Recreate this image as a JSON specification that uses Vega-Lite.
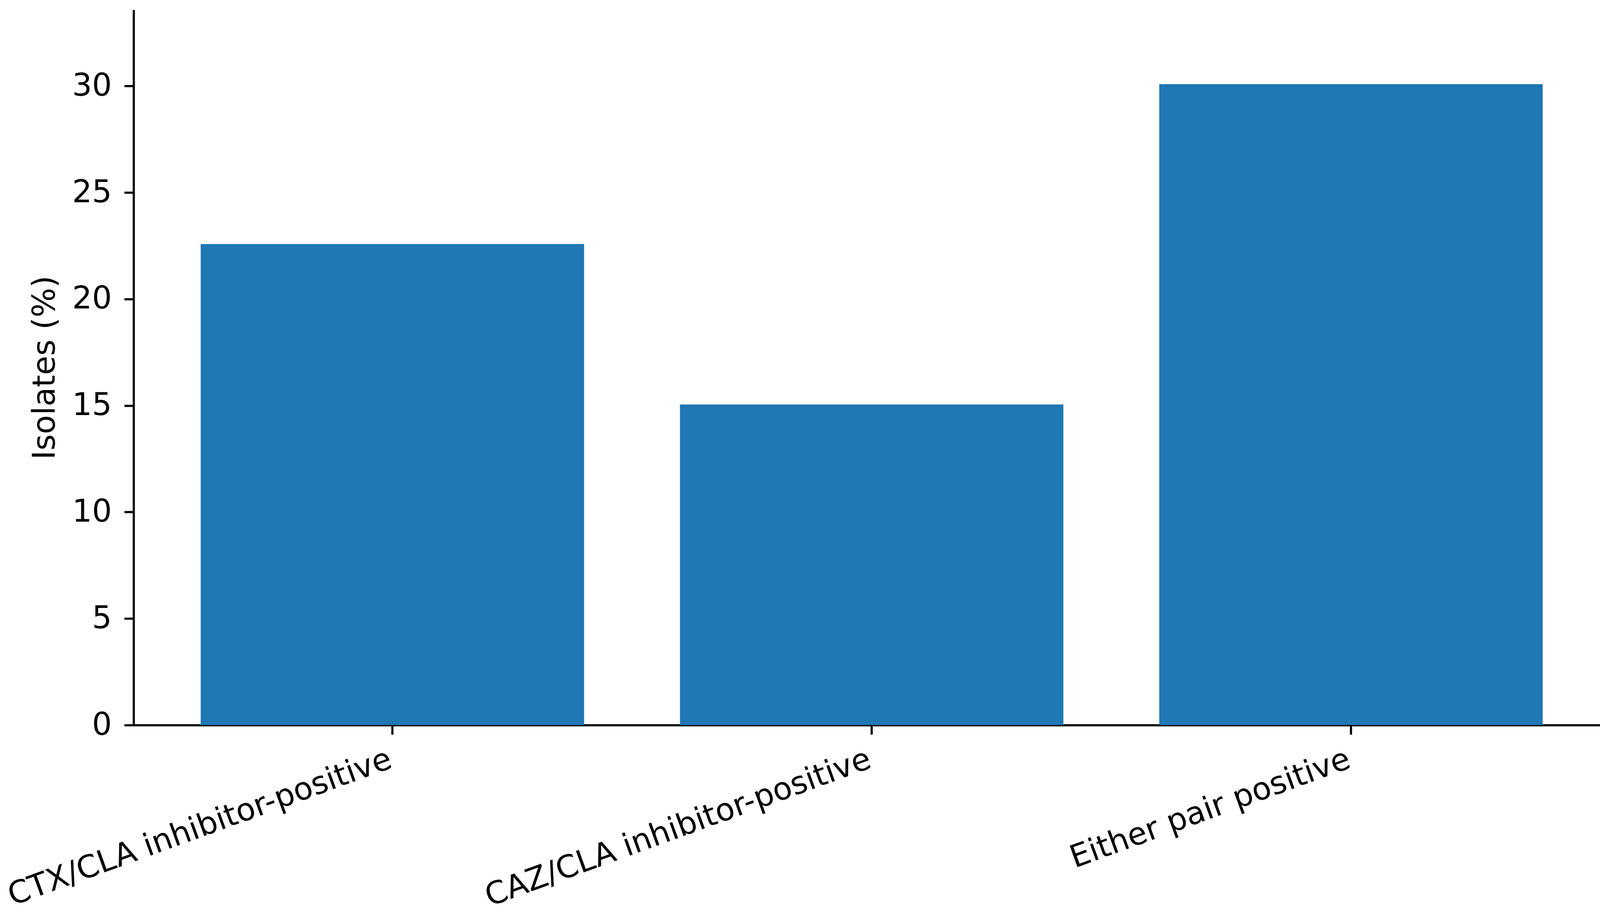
{
  "$schema": "https://vega.github.io/schema/vega-lite/v6.json",
  "width": 3779,
  "height": 1832,
  "autosize": {"type": "none"},
  "padding": {"left": 342, "top": 25, "right": 0, "bottom": 489},
  "background": "white",
  "data": {
    "values": [
      {"group": "CTX/CLA inhibitor-positive", "pct": 22.58},
      {"group": "CAZ/CLA inhibitor-positive", "pct": 15.05},
      {"group": "Either pair positive", "pct": 30.09}
    ]
  },
  "mark": {"type": "bar", "color": "#1f77b4"},
  "encoding": {
    "x": {
      "field": "group",
      "type": "nominal",
      "sort": null,
      "scale": {"paddingInner": 0.2, "paddingOuter": 0.14},
      "axis": {
        "title": null,
        "labelAngle": -20,
        "labelAlign": "right",
        "labelBaseline": "top",
        "labelPadding": 24,
        "labelOffset": -18,
        "labelLimit": 0,
        "labelOverlap": false,
        "labelBound": false,
        "labelFlush": false
      }
    },
    "y": {
      "field": "pct",
      "type": "quantitative",
      "scale": {"domain": [0, 33.58], "nice": false, "zero": true},
      "axis": {
        "title": "Isolates (%)",
        "values": [0, 5, 10, 15, 20, 25, 30],
        "grid": false,
        "labelPadding": 32,
        "titlePadding": 28
      }
    }
  },
  "config": {
    "view": {"stroke": null},
    "font": "DejaVu Sans",
    "axis": {
      "domainColor": "black",
      "domainWidth": 5.5,
      "tickColor": "black",
      "tickWidth": 5.5,
      "tickSize": 24,
      "labelFont": "DejaVu Sans",
      "labelFontSize": 80,
      "labelColor": "black",
      "titleFont": "DejaVu Sans",
      "titleFontSize": 80,
      "titleFontWeight": "normal",
      "titleColor": "black"
    }
  }
}
